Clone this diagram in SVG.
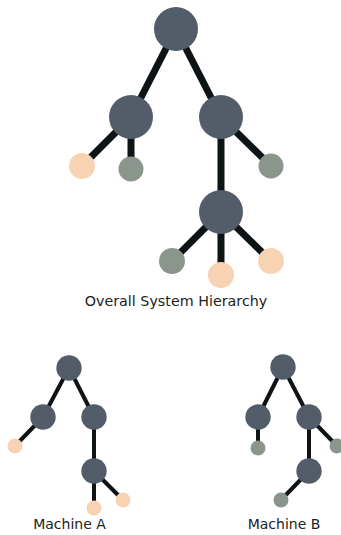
<svg xmlns="http://www.w3.org/2000/svg" width="341" height="535" viewBox="0 0 341 535">
<style>
.e{stroke:#0e1316;stroke-linecap:butt;fill:none}
.big{stroke-width:7}
.small{stroke-width:4}
.n{fill:#535d6a}
.p{fill:#f8d3b3}
.g{fill:#8a958c}
text{font-family:"DejaVu Sans",sans-serif;fill:#222;text-anchor:middle}
</style>
<rect width="341" height="535" fill="#fff"/>
<g id="connectors">
<g class="e big">
<line x1="176" y1="29" x2="131" y2="117"/>
<line x1="176" y1="29" x2="221" y2="117"/>
<line x1="131" y1="117" x2="82" y2="166"/>
<line x1="131" y1="117" x2="131" y2="169"/>
<line x1="221" y1="117" x2="271" y2="166"/>
<line x1="221" y1="117" x2="221" y2="212"/>
<line x1="221" y1="212" x2="172" y2="261"/>
<line x1="221" y1="212" x2="221" y2="275"/>
<line x1="221" y1="212" x2="271" y2="261"/>
</g>
<g class="e small">
<line x1="69" y1="368" x2="43" y2="417"/>
<line x1="69" y1="368" x2="94" y2="417"/>
<line x1="43" y1="417" x2="15" y2="446"/>
<line x1="94" y1="417" x2="94" y2="471"/>
<line x1="94" y1="471" x2="94" y2="508"/>
<line x1="94" y1="471" x2="123" y2="500"/>
<line x1="283" y1="367" x2="258" y2="417"/>
<line x1="283" y1="367" x2="309" y2="417"/>
<line x1="258" y1="417" x2="258" y2="448"/>
<line x1="309" y1="417" x2="337" y2="446"/>
<line x1="309" y1="417" x2="309" y2="471"/>
<line x1="309" y1="471" x2="281" y2="500"/>
</g>
</g>
<g id="overall">
<g id="o-root"><circle class="n" cx="176" cy="29" r="22"/></g>
<g id="o-left"><circle class="n" cx="131" cy="117" r="22"/></g>
<g id="o-right"><circle class="n" cx="221" cy="117" r="22"/></g>
<g id="o-l1"><circle class="p" cx="82" cy="166" r="13"/></g>
<g id="o-l2"><circle class="g" cx="131" cy="169" r="12.5"/></g>
<g id="o-r1"><circle class="g" cx="271" cy="166" r="12.5"/></g>
<g id="o-sub"><circle class="n" cx="221" cy="212" r="22"/></g>
<g id="o-s1"><circle class="g" cx="172" cy="261" r="13"/></g>
<g id="o-s2"><circle class="p" cx="221" cy="275" r="13"/></g>
<g id="o-s3"><circle class="p" cx="271" cy="261" r="13"/></g>
<text x="176" y="306" font-size="14.3">Overall System Hierarchy</text>
</g>
<g id="machineA">
<g id="a-root"><circle class="n" cx="69" cy="368" r="12.7"/></g>
<g id="a-left"><circle class="n" cx="43" cy="417" r="12.7"/></g>
<g id="a-right"><circle class="n" cx="94" cy="417" r="12.7"/></g>
<g id="a-l1"><circle class="p" cx="15" cy="446" r="7.5"/></g>
<g id="a-sub"><circle class="n" cx="94" cy="471" r="12.7"/></g>
<g id="a-s1"><circle class="p" cx="94" cy="508" r="7.5"/></g>
<g id="a-s2"><circle class="p" cx="123" cy="500" r="7.5"/></g>
<text x="69.5" y="529" font-size="14">Machine A</text>
</g>
<g id="machineB">
<g id="b-root"><circle class="n" cx="283" cy="367" r="12.7"/></g>
<g id="b-left"><circle class="n" cx="258" cy="417" r="12.7"/></g>
<g id="b-right"><circle class="n" cx="309" cy="417" r="12.7"/></g>
<g id="b-l1"><circle class="g" cx="258" cy="448" r="7.5"/></g>
<g id="b-r1"><circle class="g" cx="337" cy="446" r="7.5"/></g>
<g id="b-sub"><circle class="n" cx="309" cy="471" r="12.7"/></g>
<g id="b-s1"><circle class="g" cx="281" cy="500" r="7.5"/></g>
<text x="284" y="529" font-size="14">Machine B</text>
</g>
</svg>
